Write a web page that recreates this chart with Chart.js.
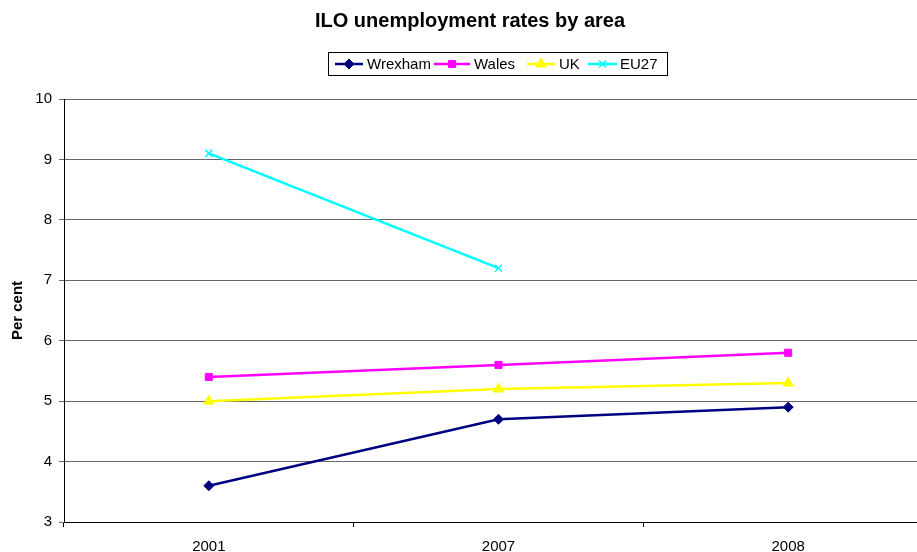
<!DOCTYPE html>
<html>
<head>
<meta charset="utf-8">
<script src="https://cdn.jsdelivr.net/npm/chart.js@4/dist/chart.umd.min.js"></script>
<style>
  html, body { margin: 0; padding: 0; background: #fff; overflow: hidden; }
  #wrap { position: absolute; left: 0; top: 0; width: 940px; height: 552px; }
</style>
</head>
<body>
<div id="wrap"><canvas id="chart" width="940" height="552"></canvas></div>
<script>
const years = ['2001', '2007', '2008'];
const wrexham = [3.6, 4.7, 4.9];
const wales = [5.4, 5.6, 5.8];
const uk = [5.0, 5.2, 5.3];
const eu27 = [9.1, 7.2, null];

const FONT = "'Liberation Sans', Arial, sans-serif";

function series(label, data, color, style, radius) {
  return {
    label, data,
    borderColor: color, backgroundColor: color,
    pointBackgroundColor: color, pointBorderColor: color,
    pointStyle: style, pointRadius: radius, pointHoverRadius: radius,
    pointBorderWidth: style === 'crossRot' ? 1.5 : 1,
    borderWidth: 2.5, tension: 0, spanGaps: false
  };
}

// legend drawn by hand: line with marker inside a framed box
const legendSpots = [
  { from: 335, to: 363, text: 367 },
  { from: 434, to: 470, text: 474 },
  { from: 527, to: 555, text: 559 },
  { from: 588, to: 617, text: 620 }
];
const boxLegend = {
  id: 'boxLegend',
  afterDraw(chart) {
    const ctx = chart.ctx;
    ctx.save();
    ctx.font = '15px ' + FONT;
    ctx.textBaseline = 'middle';
    const cy = 64;
    chart.data.datasets.forEach((ds, i) => {
      const s = legendSpots[i];
      ctx.strokeStyle = ds.borderColor;
      ctx.lineWidth = 2.5;
      ctx.beginPath();
      ctx.moveTo(s.from, cy);
      ctx.lineTo(s.to, cy);
      ctx.stroke();
      ctx.fillStyle = ds.pointBackgroundColor;
      ctx.strokeStyle = ds.pointBorderColor;
      ctx.lineWidth = ds.pointBorderWidth;
      Chart.helpers.drawPoint(ctx, {
        pointStyle: ds.pointStyle, radius: ds.pointRadius,
        borderWidth: ds.pointBorderWidth, rotation: 0
      }, (s.from + s.to) / 2, cy);
      ctx.fillStyle = '#000';
      ctx.fillText(ds.label, s.text, cy + 1);
    });
    ctx.strokeStyle = '#000';
    ctx.lineWidth = 1;
    ctx.strokeRect(328.5, 52.5, 339, 23);
    ctx.restore();
  }
};

new Chart(document.getElementById('chart'), {
  type: 'line',
  data: {
    labels: years,
    datasets: [
      series('Wrexham', wrexham, '#000080', 'rectRot', 5),
      series('Wales', wales, '#ff00ff', 'rect', 5),
      series('UK', uk, '#ffff00', 'triangle', 6),
      series('EU27', eu27, '#00ffff', 'crossRot', 5)
    ]
  },
  options: {
    responsive: false,
    animation: false,
    layout: { padding: 0 },
    plugins: {
      legend: { display: false },
      tooltip: { enabled: false },
      title: {
        display: true,
        text: 'ILO unemployment rates by area',
        color: '#000',
        font: { family: FONT, size: 20, weight: 'bold' },
        padding: { top: 9, bottom: 66 }
      }
    },
    scales: {
      x: {
        offset: true,
        grid: { offset: true, drawOnChartArea: false, tickLength: 5, color: '#000' },
        border: { color: '#000', width: 1 },
        ticks: { color: '#000', font: { family: FONT, size: 15 }, padding: 11, maxRotation: 0 },
        afterFit(s) { s.height = 30; }
      },
      y: {
        min: 3, max: 10,
        ticks: { stepSize: 1, color: '#000', font: { family: FONT, size: 15 }, padding: 7 },
        grid: { color: '#666', lineWidth: 1, tickLength: 5 },
        border: { color: '#000', width: 1 },
        title: {
          display: true, text: 'Per cent', color: '#000',
          font: { family: FONT, size: 15, weight: 'bold' }, padding: { top: 9, bottom: 0 }
        },
        afterFit(s) { s.width = 64; }
      }
    }
  },
  plugins: [boxLegend]
});
</script>
</body>
</html>
